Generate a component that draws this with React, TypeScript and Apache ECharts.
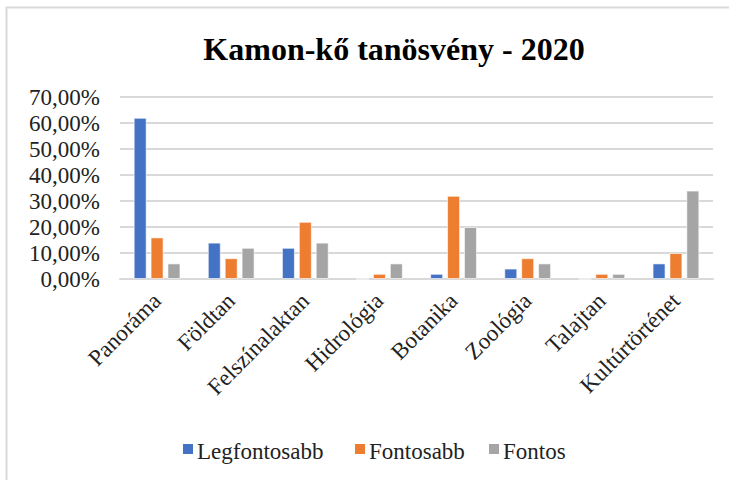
import React, { useEffect, useRef } from "react";
import * as echarts from "echarts";

const categories = ["Panoráma", "Földtan", "Felszínalaktan", "Hidrológia", "Botanika", "Zoológia", "Talajtan", "Kultúrtörténet"];
const legfontosabb = [62, 14, 12, 0, 2, 4, 0, 6];
const fontosabb = [16, 8, 22, 2, 32, 8, 2, 10];
const fontos = [6, 12, 14, 6, 20, 6, 2, 34];
const seriesNames = ["Legfontosabb", "Fontosabb", "Fontos"];
const colors = ["#4472C4", "#ED7D31", "#A5A5A5"];

const FONT = "'Liberation Serif', serif";

export default function App() {
  const ref = useRef<HTMLDivElement>(null);
  useEffect(() => {
    if (!ref.current) return;
    const chart = echarts.init(ref.current, null, { renderer: "svg" });
    const data = [legfontosabb, fontosabb, fontos];
    const legendX = [183, 355, 489];
    const legendItems: any[] = [];
    seriesNames.forEach((name, i) => {
      legendItems.push({
        type: "rect",
        shape: { x: legendX[i], y: 444, width: 10, height: 10 },
        style: { fill: colors[i] },
        silent: true,
      });
      legendItems.push({
        type: "text",
        x: legendX[i] + 14,
        y: 451,
        style: {
          text: name,
          font: "normal 23px 'Liberation Serif', serif",
          fill: "#222",
          verticalAlign: "middle",
          align: "left",
        },
        silent: true,
      });
    });
    chart.setOption({
      animation: false,
      backgroundColor: "#ffffff",
      textStyle: { fontFamily: FONT },
      graphic: [
        {
          type: "rect",
          shape: { x: 6.5, y: 7.5, width: 760, height: 500 },
          style: { fill: "none", stroke: "#D9D9D9", lineWidth: 2 },
          silent: true,
        },
        ...legendItems,
      ],
      title: {
        text: "Kamon-kő tanösvény - 2020",
        left: 389,
        textAlign: "center",
        top: 28,
        textStyle: { fontFamily: FONT, fontSize: 32, fontWeight: "bold", color: "#000" },
      },
      legend: { show: false, data: seriesNames },
      grid: { left: 120, right: 16, top: 97, height: 182, containLabel: false },
      xAxis: {
        type: "category",
        data: categories,
        axisTick: { show: false },
        axisLine: { show: true, lineStyle: { color: "#D9D9D9", width: 2 } },
        axisLabel: {
          rotate: 45,
          interval: 0,
          margin: 18,
          fontFamily: FONT,
          fontSize: 23,
          color: "#222",
        },
      },
      yAxis: {
        type: "value",
        min: 0,
        max: 70,
        interval: 10,
        axisLine: { show: false },
        axisTick: { show: false },
        splitLine: { lineStyle: { color: "#D9D9D9", width: 2 } },
        axisLabel: {
          margin: 20,
          fontFamily: FONT,
          fontSize: 23,
          color: "#222",
          formatter: (v: number) => v.toFixed(2).replace(".", ",") + "%",
        },
      },
      series: seriesNames.map((name, i) => ({
        name,
        type: "bar",
        data: data[i],
        barWidth: 13,
        barGap: "30%",
        itemStyle: { color: colors[i], borderColor: "rgba(255,255,255,0.6)", borderWidth: 1 },
      })),
    });
    return () => chart.dispose();
  }, []);
  return <div ref={ref} style={{ position: "fixed", left: 0, top: 0, width: 729, height: 480 }} />;
}
